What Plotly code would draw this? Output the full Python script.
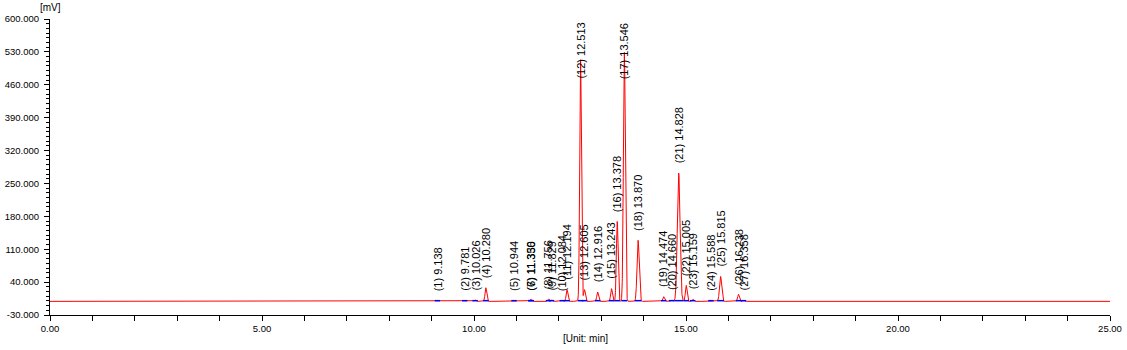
import numpy as np
import plotly.graph_objects as go

# ---- data ----
peak_no = list(range(1, 28))
peak_time = [9.138, 9.781, 10.026, 10.280, 10.944, 11.336, 11.350, 11.756, 11.829,
             12.084, 12.194, 12.513, 12.605, 12.916, 13.243, 13.378, 13.546, 13.870,
             14.474, 14.660, 14.828, 15.005, 15.159, 15.588, 15.815, 16.238, 16.358]
peak_height = [0.5, 1.0, 3.0, 29.0, 1.0, 3.0, 2.0, 5.0, 3.0,
               2.0, 25.0, 515.0, 25.0, 20.0, 27.0, 170.0, 530.0, 130.0,
               10.0, 3.0, 273.0, 34.0, 5.0, 1.0, 53.0, 15.0, 2.0]
peak_sigma = [0.02, 0.02, 0.02, 0.02, 0.02, 0.02, 0.02, 0.02, 0.02,
              0.02, 0.02, 0.02, 0.02, 0.02, 0.02, 0.02, 0.022, 0.025,
              0.02, 0.02, 0.032, 0.02, 0.02, 0.02, 0.025, 0.02, 0.02]
baseline_mV = -1.0
x_ticks = [0, 5, 10, 15, 20, 25]
x_ticktext = ["0.00", "5.00", "10.00", "15.00", "20.00", "25.00"]
y_ticks = [-30, 40, 110, 180, 250, 320, 390, 460, 530, 600]
y_ticktext = ["-30.000", "40.000", "110.000", "180.000", "250.000",
              "320.000", "390.000", "460.000", "530.000", "600.000"]

# ---- build the signal trace from the peak list ----
t = np.arange(0, 25.0001, 0.002)
signal = np.full_like(t, baseline_mV)
for tc, h, s in zip(peak_time, peak_height, peak_sigma):
    signal += h * np.exp(-0.5 * ((t - tc) / s) ** 2)

# integration baseline segments (blue)
bx, by = [], []
for tc, s in zip(peak_time, peak_sigma):
    bx += [tc - 3.2 * s, tc + 3.2 * s, None]
    by += [baseline_mV + 1.5, baseline_mV + 1.5, None]

fig = go.Figure()
fig.add_trace(go.Scatter(x=t, y=signal, mode="lines",
                         line=dict(color="#ff0000", width=1), hoverinfo="skip"))
fig.add_trace(go.Scatter(x=bx, y=by, mode="lines",
                         line=dict(color="#0000ff", width=1.5), hoverinfo="skip"))

FONT = "Liberation Sans, Arial, sans-serif"
W, H = 1127, 350
ml, mr, mt, mb = 50, 17, 19, 35
plot_h = H - mt - mb
px_per_mV = plot_h / 630.0
gap = 7 / px_per_mV
floor = 17.0
label_len = 57 / px_per_mV

annotations = []
for n, tc, h in zip(peak_no, peak_time, peak_height):
    txt = f"({n}) {tc:.3f}"
    yb = max(h + gap, floor)
    if yb + label_len > 600:
        annotations.append(dict(x=tc, y=600, xref="x", yref="y", text=txt,
                                textangle=-90, showarrow=False, xanchor="center",
                                yanchor="top", yshift=-2,
                                font=dict(family=FONT, size=11, color="black")))
    else:
        annotations.append(dict(x=tc, y=yb, xref="x", yref="y", text=txt,
                                textangle=-90, showarrow=False, xanchor="center",
                                yanchor="bottom",
                                font=dict(family=FONT, size=11, color="black")))

annotations.append(dict(x=0, y=1, xref="paper", yref="paper", text="[mV]",
                        showarrow=False, xanchor="center", yanchor="bottom", yshift=4,
                        font=dict(family=FONT, size=10, color="black")))
annotations.append(dict(x=0.5, y=0, xref="paper", yref="paper", text="[Unit: min]",
                        showarrow=False, xanchor="center", yanchor="top",
                        xshift=5, yshift=-16,
                        font=dict(family=FONT, size=10, color="black")))

fig.update_layout(
    width=W, height=H, autosize=False,
    margin=dict(l=ml, r=mr, t=mt, b=mb, pad=0, autoexpand=False),
    paper_bgcolor="white", plot_bgcolor="white",
    showlegend=False,
    annotations=annotations,
    xaxis=dict(range=[0, 25], tickmode="array", tickvals=x_ticks, ticktext=x_ticktext,
               automargin=False,
               showgrid=False, zeroline=False, showline=True, linecolor="black",
               linewidth=1, ticks="outside", ticklen=5, tickcolor="black",
               tickfont=dict(family=FONT, size=9.5, color="black"),
               minor=dict(dtick=1, tick0=0, ticks="outside", ticklen=5,
                          tickcolor="black", showgrid=False)),
    yaxis=dict(range=[-30, 600], tickmode="array", tickvals=y_ticks, ticktext=y_ticktext,
               automargin=False,
               showgrid=False, zeroline=False, showline=True, linecolor="black",
               linewidth=1, ticks="outside", ticklen=5, tickcolor="black",
               ticklabelstandoff=3,
               tickfont=dict(family=FONT, size=9.5, color="black"),
               minor=dict(dtick=10, tick0=-30, ticks="outside", ticklen=3,
                          tickcolor="black", showgrid=False)),
)

fig.write_html("out.html")
